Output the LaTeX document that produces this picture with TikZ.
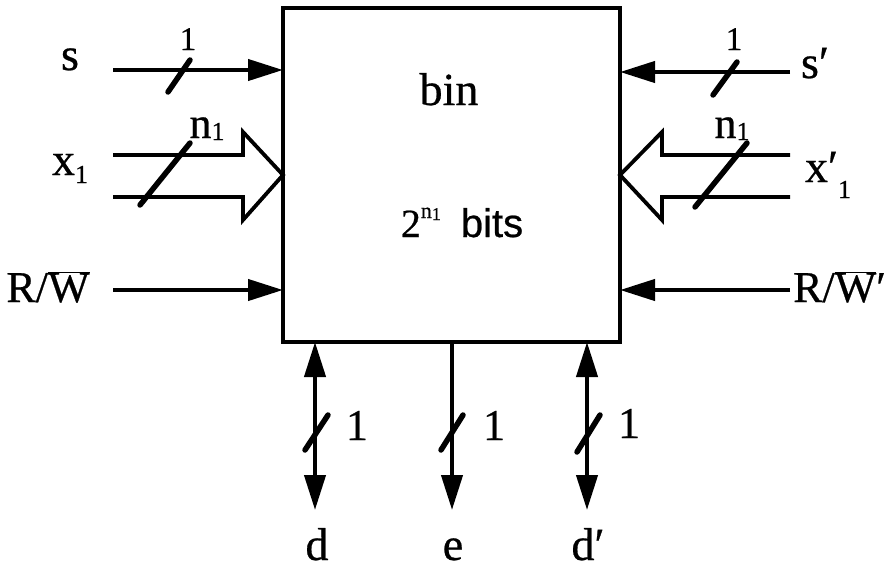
\documentclass[tikz,border=0pt]{standalone}
\usepackage{fontspec}
\setmainfont{Liberation Serif}[FakeBold=0.6]
\newfontfamily\sansf{Liberation Sans}[FakeBold=0.6]
\usetikzlibrary{arrows.meta}
\newcommand{\fs}[1]{\fontsize{#1}{#1}\selectfont}
\newcommand{\lowone}[2]{\raisebox{-#1}{\fs{#2}1}}
\begin{document}
\begin{tikzpicture}[x=1pt,y=-1pt,
  wire/.style={line width=4.2pt},
  tipA/.tip={Triangle[length=35pt,width=21pt]},
  arr/.style={wire,-tipA},
  barr/.style={wire,tipA-tipA},
  busline/.style={line width=3.8pt,line join=miter,miter limit=4},
  slashmark/.style={line width=5.5pt,line cap=round},
  lbl/.style={inner sep=0pt,anchor=base,font=\fs{44}},
  small/.style={lbl,font=\fs{33}}]
\useasboundingbox (0,0) rectangle (885,571);

% block
\node[draw,line width=4.2pt,minimum width=337pt,minimum height=334pt,
      inner sep=0pt,outer sep=0pt] (box) at (451.5,175) {};
\node[lbl,font=\fs{46}] (bin) at (449,105) {bin};
\node[lbl] (bits) at (462,237) {\fs{40}2\raisebox{19pt}{\fs{22}n\raisebox{-2pt}{\fs{18}1}}\hspace{20pt}{\sansf\fs{40}bits}};

% left: s
\node[lbl,font=\fs{46}] (s) at (70,70) {s};
\coordinate (sA) at (113,70);
\draw[arr] (sA) -- (sA -| box.west);
\draw[slashmark] (168,92) -- (190,60);
\node[small] (s1) at (188,50) {1};

% left: x1 bus
\node[lbl,font=\fs{46}] (x1) at (70,175) {x\lowone{8pt}{26}};
\coordinate (xA) at (113,155);
\coordinate (xB) at (113,197);
\draw[busline] (xA) -- (243,155) -- (243,132) -- (box.west) -- (243,220) -- (243,197) -- (xB);
\draw[slashmark] (140,205) -- (190,143);
\node[lbl,font=\fs{44}] (n1) at (207,138) {n\lowone{2pt}{26}};

% left: R/W
\node[lbl] (rw) at (48,302) {R/$\overline{\hbox{W}}$};
\coordinate (rA) at (113,290);
\draw[arr] (rA) -- (rA -| box.west);

% right: s'
\node[lbl,font=\fs{46}] (sp) at (815,78) {s′};
\coordinate (spA) at (790,72);
\draw[arr] (spA) -- (spA -| box.east);
\draw[slashmark] (713,95) -- (737,62);
\node[small] (sp1) at (734,50) {1};

% right: x1' bus
\node[lbl,font=\fs{46}] (xp) at (828,182) {x′\lowone{16pt}{26}};
\coordinate (xpA) at (790,155);
\coordinate (xpB) at (790,197);
\draw[busline] (xpA) -- (662,155) -- (662,132) -- (box.east) -- (662,220) -- (662,197) -- (xpB);
\draw[slashmark] (695,207) -- (747,143);
\node[lbl,font=\fs{44}] (np1) at (732,138) {n\lowone{2pt}{26}};

% right: R/W'
\node[lbl,anchor=base west] (rwp) at (793,302) {R/$\overline{\hbox{W}}$′};
\coordinate (rpA) at (790,290);
\draw[arr] (rpA) -- (rpA -| box.east);

% bottom: d
\coordinate (dE) at (315,510);
\draw[barr] (dE |- box.south) -- (dE);
\draw[slashmark] (305,450) -- (328,415);
\node[lbl] (d1) at (357,440) {1};
\node[lbl,font=\fs{46}] (d) at (317,560) {d};

% bottom: e
\coordinate (eE) at (452,510);
\draw[arr] (eE |- box.south) -- (eE);
\draw[slashmark] (441,450) -- (463,415);
\node[lbl] (e1) at (494,440) {1};
\node[lbl,font=\fs{46}] (e) at (453,560) {e};

% bottom: d'
\coordinate (dpE) at (587,510);
\draw[barr] (dpE |- box.south) -- (dpE);
\draw[slashmark] (577,452) -- (600,415);
\node[lbl] (dp1) at (629,438) {1};
\node[lbl,font=\fs{46}] (dp) at (588,560) {d′};
\end{tikzpicture}
\end{document}
